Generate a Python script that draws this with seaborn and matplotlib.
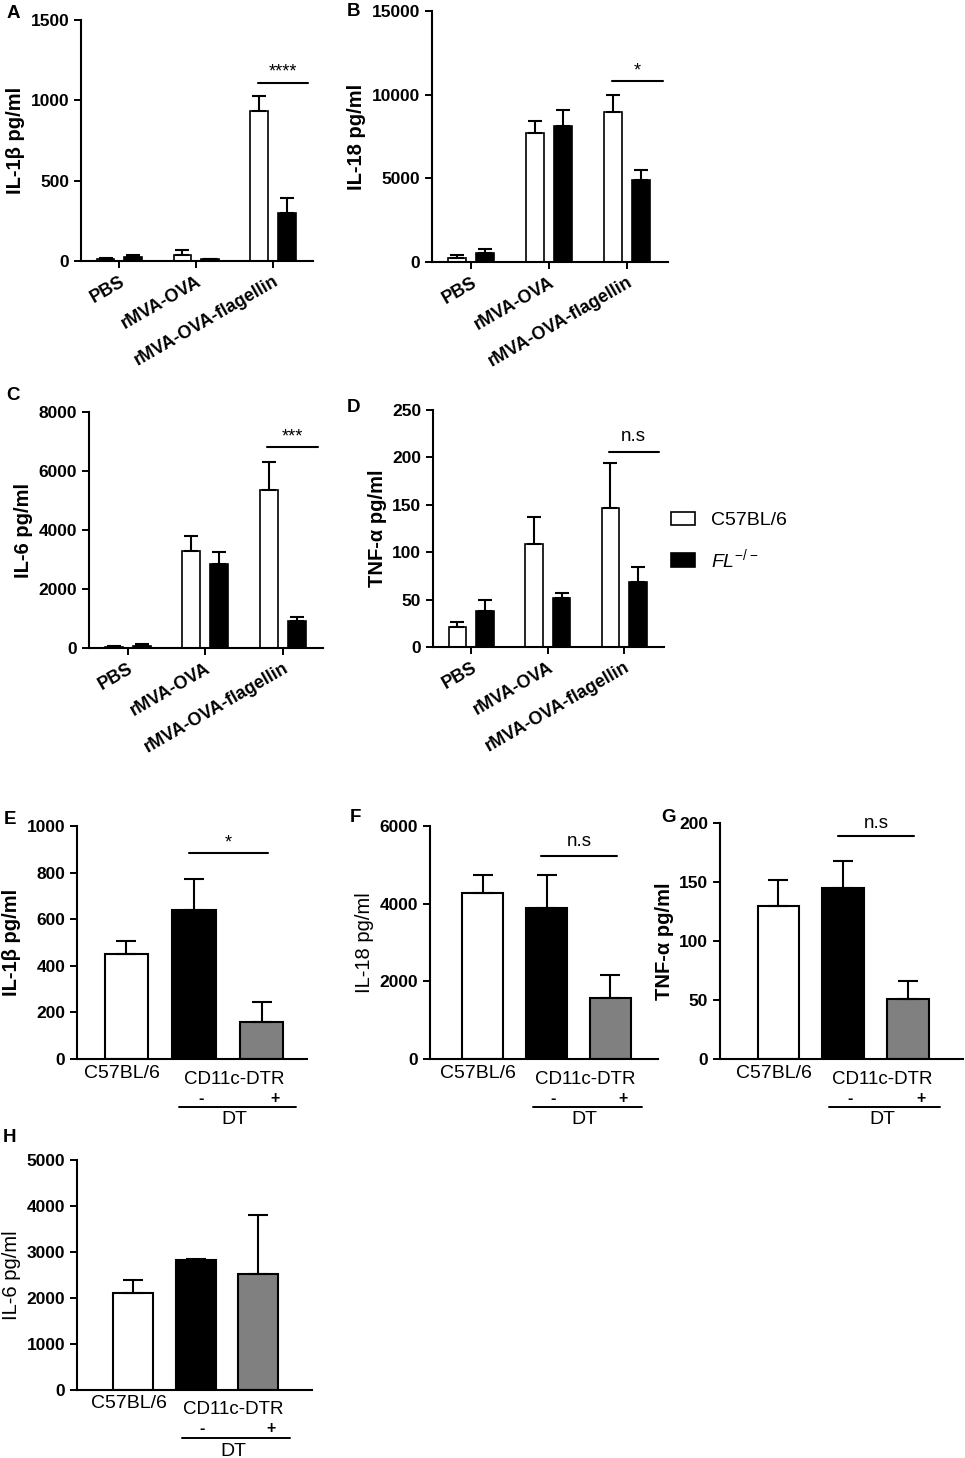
import numpy as np
import pandas as pd
import matplotlib
matplotlib.use('Agg')
import matplotlib.pyplot as plt
from matplotlib.container import BarContainer
import seaborn as sns

# ---- data (mean and SEM) ----
stimuli = ['PBS', 'rMVA-OVA', 'rMVA-OVA-flagellin']
strains = ['C57BL/6', 'FL-/-']

il1b_wt = [10, 40, 935]
il1b_wt_sem = [6, 30, 95]
il1b_fl = [25, 10, 300]
il1b_fl_sem = [15, 3, 90]

il18_wt = [250, 7700, 8950]
il18_wt_sem = [150, 700, 1050]
il18_fl = [550, 8100, 4900]
il18_fl_sem = [250, 1000, 600]

il6_wt = [50, 3300, 5350]
il6_wt_sem = [20, 500, 950]
il6_fl = [80, 2850, 900]
il6_fl_sem = [40, 400, 150]

tnf_wt = [21, 109, 147]
tnf_wt_sem = [5, 28, 47]
tnf_fl = [38, 52, 69]
tnf_fl_sem = [12, 5, 15]

# CD11c-DTR depletion experiment
dtr_groups = ['C57BL/6', 'CD11c-DTR DT-', 'CD11c-DTR DT+']
dtr_il1b = [450, 640, 160]
dtr_il1b_sem = [55, 132, 83]
dtr_il18 = [4280, 3900, 1580]
dtr_il18_sem = [470, 830, 590]
dtr_tnf = [130, 145, 51]
dtr_tnf_sem = [22, 23, 15]
dtr_il6 = [2100, 2820, 2520]
dtr_il6_sem = [300, 30, 1280]

sns.set_style("ticks")
plt.rcParams['font.family'] = ['Liberation Sans', 'DejaVu Sans']
plt.rcParams['mathtext.fontset'] = 'custom'
plt.rcParams['mathtext.rm'] = 'Liberation Sans'
plt.rcParams['mathtext.it'] = 'Liberation Sans:italic'
plt.rcParams['axes.linewidth'] = 1.5
for key in ['text.color', 'axes.labelcolor', 'xtick.color', 'ytick.color', 'axes.edgecolor']:
    plt.rcParams[key] = 'black'

W, H = 965, 1458
fig = plt.figure(figsize=(W / 100, H / 100), dpi=100)


def px_axes(x0, x1, y0, y1):
    return fig.add_axes([x0 / W, 1 - y1 / H, (x1 - x0) / W, (y1 - y0) / H])


def bar_containers(ax):
    return [c for c in ax.containers if isinstance(c, BarContainer)]


def style_axis(ax, yticks, ylabel, ylabel_bold=True):
    sns.despine(ax=ax)
    ax.set_ylim(0, yticks[-1])
    ax.set_yticks(yticks)
    ax.tick_params(axis='both', direction='out', length=5, width=1.4, colors='black')
    for t in ax.get_yticklabels():
        t.set_fontweight('bold')
        t.set_fontsize(12.5)
    ax.set_ylabel(ylabel, fontsize=14.5, fontweight='bold' if ylabel_bold else 'normal')
    ax.set_xlabel('')


def add_errors(ax, sems_per_container, capsize):
    for cont, sem in zip(bar_containers(ax), sems_per_container):
        xs = [b.get_x() + b.get_width() / 2 for b in cont]
        hs = [b.get_height() for b in cont]
        ax.errorbar(xs, hs, yerr=[np.zeros(len(sem)), sem], fmt='none', ecolor='black',
                    elinewidth=1.5, capsize=capsize, capthick=1.5, zorder=3)


def sig_bar(ax, x1, x2, y, text, fs, pad):
    ax.plot([x1, x2], [y, y], color='black', lw=1.5, clip_on=False)
    ax.annotate(text, xy=((x1 + x2) / 2, y), xytext=(0, pad), textcoords='offset points',
                ha='center', va='bottom', fontsize=fs, annotation_clip=False)


def stim_panel(ax, wt, wt_sem, fl, fl_sem, yticks, ylabel, sig_y, sig_text, sig_fs, sig_pad):
    df = pd.DataFrame({'stim': stimuli * 2,
                       'strain': [strains[0]] * 3 + [strains[1]] * 3,
                       'value': wt + fl})
    sns.barplot(data=df, x='stim', y='value', hue='strain', order=stimuli, hue_order=strains,
                palette=['white', 'black'], saturation=1, edgecolor='black', linewidth=1.2,
                width=0.72, gap=0.36, errorbar=None, legend=False, ax=ax)
    add_errors(ax, [wt_sem, fl_sem], capsize=5)
    ax.set_xlim(-0.5, 2.52)
    style_axis(ax, yticks, ylabel)
    ax.set_xticks(range(len(stimuli)))
    ax.set_xticklabels(stimuli, rotation=30, ha='right', va='top', rotation_mode='anchor',
                       fontsize=13, fontweight='bold')
    sig_bar(ax, 2 - 0.2, 2 + 0.45, sig_y, sig_text, sig_fs, sig_pad)


def dtr_panel(ax, vals, sems, yticks, ylabel, ylabel_bold, sig_y, sig_text, sig_fs, sig_pad, xlim):
    df = pd.DataFrame({'group': dtr_groups, 'value': vals})
    sns.barplot(data=df, x='group', y='value', hue='group', order=dtr_groups, hue_order=dtr_groups,
                palette=['white', 'black', '#808080'], saturation=1, edgecolor='black',
                linewidth=1.5, width=0.64, errorbar=None, legend=False, ax=ax)
    add_errors(ax, [[s] for s in sems], capsize=7.5)
    ax.set_xlim(*xlim)
    style_axis(ax, yticks, ylabel, ylabel_bold)
    ax.set_xticks([])
    tr = ax.get_xaxis_transform()

    def lab(x, dy_px, s, fs=14, weight='normal', va='center'):
        ax.annotate(s, xy=(x, 0), xycoords=tr, xytext=(0, -dy_px * 0.72), textcoords='offset points',
                    ha='center', va=va, fontsize=fs, fontweight=weight, annotation_clip=False)

    lab(-0.07, 14, 'C57BL/6')
    lab(1.6, 20, 'CD11c-DTR', 13.5)
    lab(1.1, 31.5, '-', 11.5, 'bold', 'top')
    lab(2.2, 31.5, '+', 11.5, 'bold', 'top')
    lab(1.6, 61, 'DT')
    line_y = -48 / ax.bbox.height
    ax.plot([0.78, 2.5], [line_y, line_y], transform=tr, color='black', lw=1.4, clip_on=False)
    if sig_text:
        sig_bar(ax, 0.92, 2.1, sig_y, sig_text, sig_fs, sig_pad)


# ---- top two rows ----
axA = px_axes(81, 313, 20, 261)
stim_panel(axA, il1b_wt, il1b_wt_sem, il1b_fl, il1b_fl_sem, [0, 500, 1000, 1500],
           'IL-1β pg/ml', 1110, '****', 13, 1.5)
axB = px_axes(432, 668, 11, 262)
stim_panel(axB, il18_wt, il18_wt_sem, il18_fl, il18_fl_sem, [0, 5000, 10000, 15000],
           'IL-18 pg/ml', 10800, '*', 13, 1.5)
axC = px_axes(89, 323, 412, 648)
stim_panel(axC, il6_wt, il6_wt_sem, il6_fl, il6_fl_sem, [0, 2000, 4000, 6000, 8000],
           'IL-6 pg/ml', 6800, '***', 13, 1.5)
axD = px_axes(433, 664, 410, 647)
stim_panel(axD, tnf_wt, tnf_wt_sem, tnf_fl, tnf_fl_sem, [0, 50, 100, 150, 200, 250],
           'TNF-α pg/ml', 206, 'n.s', 13.5, 5)

handles = [c.patches[0] for c in bar_containers(axD)]
fig.legend(handles, ['C57BL/6', r'$FL^{-/-}$'], loc='upper left',
           bbox_to_anchor=(671 / W, 1 - 512 / H), frameon=False, fontsize=14,
           borderaxespad=0, borderpad=0, handlelength=1.25, handleheight=0.68,
           labelspacing=0.9, handletextpad=0.8)

# ---- CD11c-DTR panels ----
axE = px_axes(77, 307, 826, 1059)
dtr_panel(axE, dtr_il1b, dtr_il1b_sem, [0, 200, 400, 600, 800, 1000], 'IL-1β pg/ml', True,
          884, '*', 13, 1, (-0.73, 2.67))
axF = px_axes(430, 658, 826, 1059)
dtr_panel(axF, dtr_il18, dtr_il18_sem, [0, 2000, 4000, 6000], 'IL-18 pg/ml', False,
          5230, 'n.s', 13.5, 4, (-0.83, 2.75))
axG = px_axes(720, 963, 823, 1059)
dtr_panel(axG, dtr_tnf, dtr_tnf_sem, [0, 50, 100, 150, 200], 'TNF-α pg/ml', True,
          189, 'n.s', 13.5, 3, (-0.9, 2.85))
axH = px_axes(77, 312, 1160, 1390)
dtr_panel(axH, dtr_il6, dtr_il6_sem, [0, 1000, 2000, 3000, 4000, 5000], 'IL-6 pg/ml', False,
          None, None, 13, 3, (-0.9, 2.86))

# panel letters
for letter, (x, y) in {'A': (13, 13), 'B': (353, 12), 'C': (13, 395), 'D': (353, 407),
                       'E': (10, 820), 'F': (355, 817), 'G': (668, 818), 'H': (10, 1137)}.items():
    fig.text(x / W, 1 - y / H, letter, fontsize=13.5, fontweight='bold', ha='center', va='center')

fig.savefig('out.png', dpi=100)
plt.close(fig)
